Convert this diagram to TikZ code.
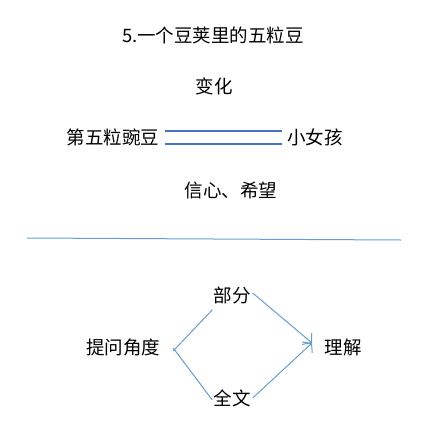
\documentclass[tikz,border=0pt]{standalone}
\usepackage{fontspec}
\setmainfont{Noto Sans CJK SC}
\usepackage{xcolor}
\usepackage{tikz}
\usetikzlibrary{positioning, arrows.meta}
\definecolor{linkblue}{RGB}{68, 114, 196}
\definecolor{arrowblue}{RGB}{100, 158, 218}

\begin{document}
\begin{tikzpicture}[x=1pt, y=-1pt,
  word/.style={inner sep=2pt, font=\fontsize{18.5}{22}\selectfont},
  arr/.style={arrowblue, line width=1pt, -{Straight Barb[length=6pt, width=15pt]}}]
\useasboundingbox (0,0) rectangle (429,439);
\node[word] (title) at (213,35) {5.一个豆荚里的五粒豆};
\node[word] (change) at (214,86) {变化};
\node[word] (pea) at (113,137) {第五粒豌豆};
\node[word] (girl) at (315,137) {小女孩};
\node[word] (hope) at (231,190) {信心、希望};
% double link
\draw[linkblue, line width=1.2pt] ([xshift=4pt, yshift=6pt]pea.east) -- ([xshift=-3pt, yshift=6pt]girl.west);
\draw[linkblue, line width=1.2pt] ([xshift=4pt, yshift=-7pt]pea.east) -- ([xshift=-3pt, yshift=-7pt]girl.west);
% divider
\coordinate (ruleL) at (27,238);
\coordinate (ruleR) at (401,240);
\draw[arrowblue, line width=1pt] (ruleL) -- (ruleR);
\node[word] (angle) at (123,347) {提问角度};
\node[word] (part) at (232,295) {部分};
\node[word] (whole) at (232,398) {全文};
\node[word] (under) at (343,347) {理解};
\coordinate (meet) at (312,343);
\draw[arrowblue, line width=1pt] ([xshift=11pt, yshift=-4pt]angle.east) -- ([xshift=1pt, yshift=-4pt]part.south west);
\draw[arrowblue, line width=1pt] ([xshift=11pt, yshift=-1pt]angle.east) -- ([xshift=1pt, yshift=-2pt]whole.west);
\draw[arr] ([yshift=2pt]part.east) -- (meet);
\draw[arr] (whole.east) -- (meet);
\end{tikzpicture}
\end{document}
